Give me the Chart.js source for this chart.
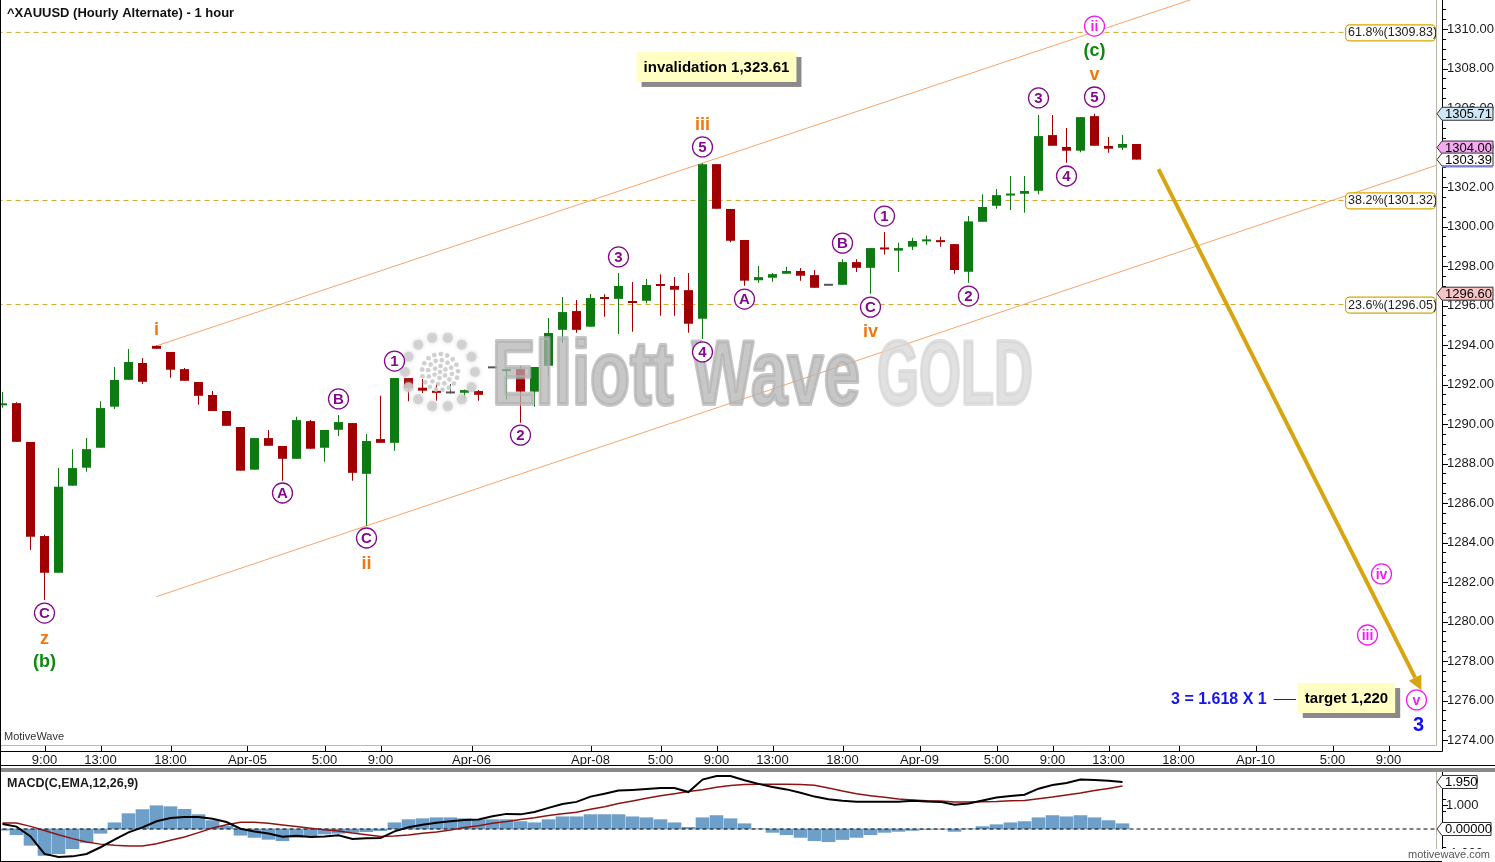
<!DOCTYPE html>
<html>
<head>
<meta charset="utf-8">
<title>XAUUSD Hourly Alternate</title>
<script src="https://cdn.jsdelivr.net/npm/chart.js@4.4.1/dist/chart.umd.min.js"></script>
<style>
  html, body { margin: 0; padding: 0; background: #fff; }
  #wrap { position: relative; width: 1495px; height: 862px; overflow: hidden; background: #fff; }
  #main { position: absolute; left: 0; top: 0; }
  #sep { position: absolute; left: 0; top: 768px; width: 1495px; height: 4px; background: #8a8a8a; }
  #macd { position: absolute; left: 0; top: 772px; }
  #edge { position: absolute; left: 0; top: 0; width: 1px; height: 862px; background: #000; }
  #foot { position: absolute; left: 0; top: 861px; width: 1442px; height: 1px; background: #000; }
</style>
</head>
<body>
<div id="wrap">
  <canvas id="main" width="1495" height="766"></canvas>
  <div id="sep"></div>
  <canvas id="macd" width="1495" height="89"></canvas>
  <div id="foot"></div>
  <div id="edge"></div>
</div>
<script>
// hourly candles, bar index 0..81
var opens  = [1290.95,1291.06,1289.09,1284.33,1282.47,1286.88,1287.79,1288.80,1290.88,1292.24,
              1293.09,1293.96,1293.65,1292.78,1292.13,1291.47,1290.66,1289.85,1287.69,1289.29,
              1288.89,1288.24,1290.15,1288.80,1289.71,1290.05,1287.48,1289.24,1289.05,1292.33,
              1291.84,1291.67,1291.55,1291.58,1291.67,1292.82,1292.68,1292.78,1291.64,1292.95,
              1294.77,1295.72,1294.93,1296.38,1296.34,1296.18,1296.24,1297.03,1296.99,1296.78,
              1295.33,1303.16,1300.89,1299.32,1297.28,1297.41,1297.61,1297.75,1297.54,1297.00,
              1297.05,1298.20,1297.91,1298.94,1298.78,1298.98,1299.25,1299.27,1299.11,1297.71,
              1300.24,1301.05,1301.57,1301.66,1301.81,1304.63,1304.03,1303.84,1305.59,1304.08,
              1303.99,1304.18];
var highs  = [1291.62,1291.10,1289.09,1284.40,1287.77,1288.73,1289.29,1291.16,1292.89,1293.80,
              1293.34,1293.98,1293.65,1292.84,1292.13,1291.67,1290.66,1289.85,1289.29,1289.70,
              1288.89,1290.37,1290.20,1289.70,1290.46,1290.05,1289.49,1291.43,1292.33,1292.33,
              1292.28,1292.08,1292.03,1291.75,1291.72,1292.82,1292.75,1292.94,1292.89,1295.37,
              1296.43,1296.28,1296.58,1296.57,1297.65,1297.19,1297.34,1297.59,1297.44,1297.65,
              1303.20,1303.16,1300.89,1299.32,1298.00,1297.65,1297.96,1297.90,1297.80,1297.00,
              1298.35,1298.35,1298.91,1299.72,1299.18,1299.43,1299.55,1299.48,1299.11,1300.53,
              1301.63,1301.90,1302.56,1302.56,1305.65,1305.65,1304.99,1305.54,1305.71,1304.53,
              1304.63,1304.18];
var lows   = [1290.83,1289.10,1283.62,1281.09,1282.47,1286.88,1287.59,1288.80,1290.76,1292.24,
              1292.03,1293.81,1292.34,1292.19,1290.98,1290.66,1289.91,1287.64,1287.69,1288.90,
              1287.13,1288.24,1288.75,1288.09,1289.39,1287.13,1284.84,1289.05,1288.65,1291.16,
              1291.57,1291.18,1291.55,1291.25,1291.18,1292.82,1291.25,1290.07,1290.88,1292.40,
              1294.12,1294.62,1294.93,1295.43,1294.56,1294.67,1296.11,1295.48,1295.48,1294.62,
              1294.30,1300.90,1299.20,1297.00,1297.15,1297.21,1297.61,1297.26,1296.90,1297.00,
              1297.05,1297.70,1296.60,1298.59,1297.70,1298.81,1299.06,1298.98,1297.61,1297.15,
              1300.24,1300.90,1300.84,1300.70,1301.63,1304.09,1303.23,1303.76,1304.09,1303.74,
              1303.87,1303.39];
var closes = [1291.05,1289.10,1284.29,1282.47,1286.83,1287.77,1288.73,1290.81,1292.23,1293.14,
              1292.14,1293.81,1292.75,1292.19,1291.43,1290.66,1289.91,1287.64,1289.29,1288.90,
              1288.24,1290.20,1288.75,1289.70,1290.10,1287.53,1289.14,1289.05,1292.33,1291.82,
              1291.69,1291.58,1291.55,1291.72,1291.48,1292.82,1292.73,1291.64,1292.89,1294.61,
              1295.67,1294.77,1296.38,1296.33,1296.99,1296.13,1297.04,1296.99,1296.80,1295.08,
              1303.16,1300.90,1299.28,1297.26,1297.44,1297.59,1297.75,1297.51,1296.90,1297.00,
              1298.20,1297.91,1298.91,1298.84,1298.91,1299.27,1299.29,1299.21,1297.80,1300.26,
              1300.99,1301.59,1301.62,1301.80,1304.58,1304.09,1303.84,1305.54,1304.09,1303.94,
              1304.18,1303.39];

// MACD(12,26,9), bar index 0..80
var macdLine = [0.21,0.10,-0.31,-1.04,-1.17,-1.14,-1.04,-0.76,-0.44,-0.14,
                0.07,0.32,0.46,0.50,0.50,0.43,0.29,0.01,-0.10,-0.19,
                -0.32,-0.28,-0.33,-0.31,-0.26,-0.42,-0.39,-0.38,-0.10,0.07,
                0.18,0.26,0.32,0.38,0.40,0.53,0.63,0.61,0.71,0.88,
                1.04,1.13,1.35,1.47,1.60,1.63,1.67,1.71,1.71,1.54,
                2.06,2.21,2.21,2.03,1.88,1.75,1.65,1.51,1.35,1.24,
                1.18,1.14,1.14,1.14,1.14,1.18,1.15,1.13,1.01,1.06,
                1.19,1.31,1.38,1.43,1.68,1.83,1.92,2.06,2.04,2.01,1.96];
var signalLine = [0.25,0.25,0.11,-0.06,-0.24,-0.40,-0.54,-0.63,-0.68,-0.71,
                  -0.71,-0.61,-0.47,-0.33,-0.15,0.04,0.18,0.28,0.28,0.24,
                  0.17,0.10,0.03,-0.03,-0.08,-0.17,-0.24,-0.31,-0.29,-0.25,
                  -0.18,-0.12,-0.04,0.06,0.14,0.24,0.31,0.40,0.47,0.56,
                  0.64,0.70,0.82,0.93,1.06,1.17,1.28,1.39,1.47,1.56,
                  1.64,1.74,1.81,1.85,1.86,1.86,1.86,1.85,1.82,1.71,
                  1.58,1.47,1.39,1.32,1.25,1.21,1.18,1.17,1.13,1.13,
                  1.14,1.15,1.18,1.19,1.26,1.33,1.42,1.50,1.60,1.69,1.79];
var macdHist = [-0.05,-0.24,-0.68,-1.10,-1.03,-0.82,-0.56,-0.18,0.26,0.64,
                0.81,0.97,0.93,0.82,0.60,0.35,0.12,-0.26,-0.35,-0.43,
                -0.49,-0.35,-0.31,-0.21,-0.18,-0.14,-0.11,-0.07,0.26,0.39,
                0.43,0.47,0.47,0.43,0.39,0.39,0.39,0.31,0.26,0.39,
                0.51,0.51,0.60,0.60,0.60,0.51,0.47,0.39,0.26,0.07,
                0.47,0.56,0.43,0.22,0.01,-0.14,-0.24,-0.35,-0.49,-0.53,
                -0.44,-0.35,-0.24,-0.14,-0.10,-0.06,-0.02,-0.01,-0.10,0.01,
                0.10,0.18,0.26,0.31,0.47,0.56,0.51,0.56,0.47,0.35,0.22];

// axis labels
var timeTickBars = [3,7,12,17.5,23,27,33.5,42,47,51,55,60,65.5,71,75,79,84,89.5,95,99];
var timeTickText = ['9:00','13:00','18:00','Apr-05','5:00','9:00','Apr-06','Apr-08','5:00','9:00',
                    '13:00','18:00','Apr-09','5:00','9:00','13:00','18:00','Apr-10','5:00','9:00'];
var priceTicks = [1274,1276,1278,1280,1282,1284,1286,1288,1290,1292,1294,1296,1298,1300,1302,1304,1306,1308,1310];
var macdTicks = [-1, 0, 1, 2];

// fibonacci retracements and price markers
var fibLevels = [1309.83, 1301.32, 1296.05];
var fibNames = ['61.8%', '38.2%', '23.6%'];
var priceMarks = [1305.71, 1304.00, 1303.39, 1296.60];

// trend channel and projection arrow, [bar, price]
var channelUpper = [[11, 1293.96], [90, 1312.70]];
var channelLower = [[11, 1281.26], [103, 1303.24]];
var projection = [[82.57, 1302.91], [100.9, 1277.16]];

// wave labels, [bar, price, text]
var minuteWaves = [[3,1280.43,'C'],[20,1286.51,'A'],[24,1291.27,'B'],[26,1284.23,'C'],[28,1293.19,'1'],
                   [37,1289.44,'2'],[44,1298.46,'3'],[50,1293.65,'4'],[50,1304.03,'5'],[53,1296.33,'A'],
                   [60,1299.16,'B'],[62,1295.92,'C'],[63,1300.53,'1'],[69,1296.48,'2'],[74,1306.51,'3'],
                   [76,1302.56,'4'],[78,1306.56,'5']];
var minorWaves = [[3,1279.16,'z'],[11,1294.81,'i'],[26,1282.96,'ii'],[50,1305.19,'iii'],[62,1294.71,'iv'],[78,1307.72,'v']];
var intermediateWaves = [[3,1278.00,'(b)'],[78,1308.94,'(c)']];
var minuetteWaves = [[78,1310.15,'ii'],[97.5,1279.32,'iii'],[98.5,1282.41,'iv'],[101,1276.03,'v']];
var primaryWaves = [[101.14,1274.81,'3']];
var noteBoxes = [[51, 1308.08, 'invalidation 1,323.61'], [96, 1276.13, 'target 1,220']];
var ratioNote = [90.3, 1276.08, '3 = 1.618 X 1'];

var FONT = '"Liberation Sans", Arial, sans-serif';
Chart.defaults.font.family = FONT;
Chart.defaults.font.size = 13;
Chart.defaults.color = '#1a1a1a';

var X_MIN = -2.5 / 14;
var X_MAX = X_MIN + 1436 / 14;

var candleColor = closes.map(function (c, i) {
  if (c > opens[i]) return '#0d7a12';
  if (c < opens[i]) return '#a10000';
  return '#555555';
});

function pts(arr) { return arr.map(function (p) { return {x: p[0], y: p[1]}; }); }

function noPad(scale) {
  scale.paddingTop = 0; scale.paddingBottom = 0;
  scale.paddingLeft = 0; scale.paddingRight = 0;
}

function roundRect(ctx, x, y, w, h, r) {
  ctx.beginPath();
  ctx.moveTo(x + r, y);
  ctx.arcTo(x + w, y, x + w, y + h, r);
  ctx.arcTo(x + w, y + h, x, y + h, r);
  ctx.arcTo(x, y + h, x, y, r);
  ctx.arcTo(x, y, x + w, y, r);
  ctx.closePath();
}

function priceTag(ctx, xa, yc, text, fill, w) {
  ctx.beginPath();
  ctx.moveTo(xa - 5, yc);
  ctx.lineTo(xa, yc - 6.5);
  ctx.lineTo(xa + w, yc - 6.5);
  ctx.lineTo(xa + w, yc + 6.5);
  ctx.lineTo(xa, yc + 6.5);
  ctx.closePath();
  ctx.fillStyle = fill;
  ctx.fill();
  ctx.strokeStyle = '#333';
  ctx.lineWidth = 1;
  ctx.stroke();
  ctx.fillStyle = '#000';
  ctx.font = '13px ' + FONT;
  ctx.textAlign = 'left';
  ctx.textBaseline = 'middle';
  ctx.fillText(text, xa + 3, yc + 0.5);
}

function frame(ctx, area, bottomAxis) {
  ctx.save();
  ctx.lineWidth = 1;
  ctx.strokeStyle = '#bdb8a6';
  ctx.beginPath();
  ctx.moveTo(area.right + 0.5, area.top);
  ctx.lineTo(area.right + 0.5, area.bottom + (bottomAxis ? 0.5 : 0));
  if (bottomAxis) {
    ctx.lineTo(area.left, area.bottom + 0.5);
  }
  ctx.stroke();
  ctx.strokeStyle = '#000';
  ctx.beginPath();
  ctx.moveTo(area.right + 6.5, area.top);
  ctx.lineTo(area.right + 6.5, area.bottom + (bottomAxis ? 6.5 : 0));
  if (bottomAxis) ctx.lineTo(area.left, area.bottom + 6.5);
  ctx.stroke();
  ctx.restore();
}

// main price panel drawing
var mainDecor = {
  id: 'mainDecor',
  afterDatasetsDraw: function (chart) {
    var ctx = chart.ctx, xs = chart.scales.x, ys = chart.scales.y, area = chart.chartArea;
    ctx.save();
    ctx.beginPath();
    ctx.rect(area.left, area.top, area.right - area.left, area.bottom - area.top);
    ctx.clip();

    // watermark logo
    var cx = 440, cy = 372;
    ctx.fillStyle = 'rgba(205,205,205,0.8)';
    ctx.shadowColor = 'rgba(200,200,200,0.9)';
    ctx.shadowBlur = 4;
    for (var k = 0; k < 14; k++) {
      var a = k / 14 * Math.PI * 2;
      ctx.beginPath();
      ctx.arc(cx + 35 * Math.cos(a), cy + 35 * Math.sin(a), 5, 0, Math.PI * 2);
      ctx.fill();
    }
    ctx.shadowBlur = 1;
    [[0, 1], [6, 6], [12, 12], [18, 17]].forEach(function (ring) {
      for (var j = 0; j < ring[1]; j++) {
        var b = j / ring[1] * Math.PI * 2 + ring[0] * 0.1;
        ctx.beginPath();
        ctx.arc(cx + ring[0] * Math.cos(b), cy + ring[0] * Math.sin(b), 2.2, 0, Math.PI * 2);
        ctx.fill();
      }
    });
    ctx.shadowBlur = 0;

    function wm(s, x0, x1, base, color) {
      ctx.font = 'bold 90px ' + FONT;
      var w = ctx.measureText(s).width;
      ctx.save();
      ctx.translate(x0 + 2, base);
      ctx.scale((x1 - x0 - 4) / w, 1);
      ctx.fillStyle = color;
      ctx.strokeStyle = color;
      ctx.lineWidth = 4;
      ctx.lineJoin = 'round';
      ctx.textAlign = 'left';
      ctx.textBaseline = 'alphabetic';
      ctx.strokeText(s, 0, 0);
      ctx.fillText(s, 0, 0);
      ctx.restore();
    }
    wm('Elliott Wave', 490, 862, 404, 'rgba(178,178,178,0.72)');
    wm('GOLD', 875, 1035, 404, 'rgba(214,214,214,0.72)');

    // projection arrow head
    var p0 = projection[0], p1 = projection[1];
    var ax = xs.getPixelForValue(p0[0]), ay = ys.getPixelForValue(p0[1]);
    var bx = xs.getPixelForValue(p1[0]), by = ys.getPixelForValue(p1[1]);
    var len = Math.hypot(bx - ax, by - ay), ux = (bx - ax) / len, uy = (by - ay) / len;
    ctx.fillStyle = '#d6a510';
    ctx.beginPath();
    ctx.moveTo(bx + ux * 14, by + uy * 14);
    ctx.lineTo(bx - uy * 7, by + ux * 7);
    ctx.lineTo(bx + uy * 7, by - ux * 7);
    ctx.closePath();
    ctx.fill();
    ctx.restore();

    // fibonacci labels
    ctx.save();
    fibLevels.forEach(function (v, i) {
      var y = ys.getPixelForValue(v);
      var x0 = xs.getPixelForValue(95.9);
      roundRect(ctx, x0 + 0.5, y - 7.5, area.right - x0 - 1, 16, 4);
      ctx.fillStyle = '#fff';
      ctx.fill();
      ctx.strokeStyle = '#d7a600';
      ctx.lineWidth = 1.2;
      ctx.stroke();
      ctx.fillStyle = '#222';
      ctx.font = '12.5px ' + FONT;
      ctx.textAlign = 'left';
      ctx.textBaseline = 'middle';
      ctx.fillText(fibNames[i] + '(' + v.toFixed(2) + ')', x0 + 3, y + 0.5);
    });

    // wave labels
    ctx.textAlign = 'center';
    ctx.textBaseline = 'middle';
    function circled(list, color, size) {
      list.forEach(function (w) {
        var x = xs.getPixelForValue(w[0]), y = ys.getPixelForValue(w[1]);
        ctx.beginPath();
        ctx.arc(x, y, 10, 0, Math.PI * 2);
        ctx.fillStyle = '#fff';
        ctx.fill();
        ctx.strokeStyle = color;
        ctx.lineWidth = 1.3;
        ctx.stroke();
        ctx.fillStyle = color;
        ctx.font = 'bold ' + size + 'px ' + FONT;
        ctx.fillText(w[2], x, y + 1);
      });
    }
    function plain(list, color, size) {
      list.forEach(function (w) {
        var x = xs.getPixelForValue(w[0]), y = ys.getPixelForValue(w[1]);
        ctx.fillStyle = color;
        ctx.font = 'bold ' + size + 'px ' + FONT;
        ctx.fillText(w[2], x, y + 1);
      });
    }
    circled(minuteWaves, '#820a8c', 15);
    circled(minuetteWaves, '#f01cf0', 14);
    plain(minorWaves, '#f2780c', 18);
    plain(intermediateWaves, '#0b8a0b', 18);
    plain(primaryWaves, '#1010f0', 20);

    // note boxes
    noteBoxes.forEach(function (n) {
      var x = xs.getPixelForValue(n[0]), y = ys.getPixelForValue(n[1]);
      ctx.font = 'bold 15px ' + FONT;
      var w = ctx.measureText(n[2]).width + 14, h = 30;
      ctx.fillStyle = '#8a8a8a';
      ctx.fillRect(x - w / 2 + 5, y - h / 2 + 5, w, h);
      ctx.fillStyle = '#ffffc4';
      ctx.fillRect(x - w / 2, y - h / 2, w, h);
      ctx.fillStyle = '#000';
      ctx.fillText(n[2], x, y + 1);
    });
    var rx = xs.getPixelForValue(ratioNote[0]), ry = ys.getPixelForValue(ratioNote[1]);
    ctx.font = 'bold 16px ' + FONT;
    ctx.fillStyle = '#1515f0';
    ctx.textAlign = 'right';
    ctx.fillText(ratioNote[2], rx, ry + 1);
    ctx.strokeStyle = '#1515f0';
    ctx.lineWidth = 1;
    ctx.beginPath();
    ctx.moveTo(rx + 7, Math.round(ry) + 0.5);
    ctx.lineTo(xs.getPixelForValue(92.4), Math.round(ry) + 0.5);
    ctx.stroke();
    ctx.restore();
  },
  afterDraw: function (chart) {
    var ctx = chart.ctx, xs = chart.scales.x, ys = chart.scales.y, area = chart.chartArea;
    frame(ctx, area, true);
    ctx.save();
    ctx.strokeStyle = '#000';
    ctx.lineWidth = 1;
    ctx.beginPath();
    for (var v = 1274; v <= 1311; v += 0.5) {
      var y = Math.round(ys.getPixelForValue(v)) + 0.5;
      ctx.moveTo(area.right + 7, y);
      ctx.lineTo(area.right + (v % 2 === 0 ? 12 : 10), y);
    }
    timeTickBars.forEach(function (b) {
      var x = Math.round(xs.getPixelForValue(b)) + 0.5;
      ctx.moveTo(x, area.bottom + 1);
      ctx.lineTo(x, area.bottom + 6);
    });
    ctx.moveTo(0, 765.5);
    ctx.lineTo(1495, 765.5);
    ctx.stroke();

    var xa = area.right + 6;
    priceTag(ctx, xa, ys.getPixelForValue(priceMarks[0]), priceMarks[0].toFixed(2), '#cfe7f4', 51);
    priceTag(ctx, xa, ys.getPixelForValue(priceMarks[1]), priceMarks[1].toFixed(2), '#f3aaf0', 51);
    priceTag(ctx, xa, ys.getPixelForValue(priceMarks[2]), priceMarks[2].toFixed(2), '#ffffff', 51);
    var yl = ys.getPixelForValue(priceMarks[2]);
    ctx.strokeStyle = '#7f7fd6';
    ctx.lineWidth = 2;
    ctx.beginPath();
    ctx.moveTo(xa, yl + 7);
    ctx.lineTo(xa + 51, yl + 7);
    ctx.stroke();
    priceTag(ctx, xa, ys.getPixelForValue(priceMarks[3]), priceMarks[3].toFixed(2), '#f6c4c4', 51);

    ctx.fillStyle = '#111';
    ctx.font = 'bold 13px ' + FONT;
    ctx.textAlign = 'left';
    ctx.textBaseline = 'middle';
    ctx.fillText('^XAUUSD (Hourly Alternate) - 1 hour', 7, 13);
    ctx.font = '11px ' + FONT;
    ctx.fillStyle = '#333';
    ctx.fillText('MotiveWave', 4, 737);
    ctx.restore();
  }
};

new Chart(document.getElementById('main'), {
  type: 'bar',
  data: {
    datasets: [
      {
        type: 'bar',
        data: lows.map(function (l, i) { return {x: i, y: [l, highs[i]]}; }),
        backgroundColor: candleColor,
        grouped: false,
        maxBarThickness: 1,
        order: 3
      },
      {
        type: 'bar',
        data: opens.map(function (o, i) { return {x: i, y: [o, closes[i]]}; }),
        backgroundColor: candleColor,
        grouped: false,
        maxBarThickness: 9,
        minBarLength: 2,
        order: 2
      }
    ].concat(fibLevels.map(function (v) {
      return {
        type: 'line',
        data: [{x: -1, y: v}, {x: 95.9, y: v}],
        borderColor: '#d6a62c',
        borderWidth: 1,
        borderDash: [5, 4],
        pointRadius: 0,
        order: 6
      };
    })).concat([
      { type: 'line', data: pts(channelUpper), borderColor: '#f7a46c', borderWidth: 1, pointRadius: 0, order: 5 },
      { type: 'line', data: pts(channelLower), borderColor: '#f7a46c', borderWidth: 1, pointRadius: 0, order: 5 },
      { type: 'line', data: pts(projection), borderColor: '#d6a510', borderWidth: 4, pointRadius: 0, order: 0 }
    ])
  },
  options: {
    responsive: false,
    animation: false,
    events: [],
    layout: { padding: 0 },
    plugins: { legend: { display: false }, tooltip: { enabled: false } },
    scales: {
      x: {
        type: 'linear',
        min: X_MIN,
        max: X_MAX,
        offset: false,
        grid: { display: false, drawTicks: false, offset: false },
        border: { display: false },
        afterBuildTicks: function (scale) {
          scale.ticks = timeTickBars.map(function (v) { return {value: v}; });
        },
        afterFit: function (scale) { scale.height = 21; noPad(scale); },
        ticks: {
          autoSkip: false,
          maxRotation: 0,
          minRotation: 0,
          padding: 8,
          callback: function (value, index) { return timeTickText[index]; }
        }
      },
      y: {
        position: 'right',
        min: 1273.75,
        max: 1311.47,
        grid: { display: false, drawTicks: false },
        border: { display: false },
        afterBuildTicks: function (scale) {
          scale.ticks = priceTicks.map(function (v) { return {value: v}; });
        },
        afterFit: function (scale) { scale.width = 59; noPad(scale); },
        ticks: {
          autoSkip: false,
          padding: 11,
          callback: function (value) { return Number(value).toFixed(2); }
        }
      }
    }
  },
  plugins: [mainDecor]
});

// MACD panel drawing
var macdDecor = {
  id: 'macdDecor',
  afterDraw: function (chart) {
    var ctx = chart.ctx, ys = chart.scales.y, area = chart.chartArea;
    frame(ctx, area, false);
    ctx.save();
    ctx.strokeStyle = '#000';
    ctx.lineWidth = 1;
    ctx.beginPath();
    for (var v = -1.25; v <= 2.25; v += 0.5) {
      var y = Math.round(ys.getPixelForValue(v)) + 0.5;
      ctx.moveTo(area.right + 7, y);
      ctx.lineTo(area.right + 10, y);
    }
    macdTicks.forEach(function (t) {
      var y = Math.round(ys.getPixelForValue(t)) + 0.5;
      ctx.moveTo(area.right + 7, y);
      ctx.lineTo(area.right + 12, y);
    });
    ctx.stroke();
    var xa = area.right + 6;
    var last = macdLine[macdLine.length - 1];
    priceTag(ctx, xa, ys.getPixelForValue(last), (Math.round(last * 40) / 40).toFixed(3), '#ffffff', 35);
    priceTag(ctx, xa, ys.getPixelForValue(0), '0.00000', '#ffffff', 49);

    ctx.fillStyle = '#1a1a1a';
    ctx.font = 'bold 12.5px ' + FONT;
    ctx.textAlign = 'left';
    ctx.textBaseline = 'middle';
    ctx.fillText('MACD(C,EMA,12,26,9)', 7, 12);
    ctx.font = '11px ' + FONT;
    var w = ctx.measureText('motivewave.com').width;
    ctx.fillStyle = '#fff';
    ctx.fillRect(1490 - w - 2, 77, w + 4, 12);
    ctx.fillStyle = '#555';
    ctx.fillText('motivewave.com', 1490 - w, 83);
    ctx.restore();
  }
};

new Chart(document.getElementById('macd'), {
  type: 'bar',
  data: {
    datasets: [
      {
        type: 'line',
        data: macdLine.map(function (v, i) { return {x: i, y: v}; }),
        borderColor: '#000',
        borderWidth: 2,
        pointRadius: 0,
        order: 0
      },
      {
        type: 'line',
        data: signalLine.map(function (v, i) { return {x: i, y: v}; }),
        borderColor: '#8e1414',
        borderWidth: 1.5,
        pointRadius: 0,
        order: 1
      },
      {
        type: 'line',
        data: [{x: -1, y: 0}, {x: 104, y: 0}],
        borderColor: '#000',
        borderWidth: 1,
        borderDash: [4, 3],
        pointRadius: 0,
        order: 2
      },
      {
        type: 'bar',
        data: macdHist.map(function (v, i) { return {x: i, y: v}; }),
        backgroundColor: '#6e9fc8',
        barThickness: 13,
        order: 3
      }
    ]
  },
  options: {
    responsive: false,
    animation: false,
    events: [],
    layout: { padding: 0 },
    plugins: { legend: { display: false }, tooltip: { enabled: false } },
    scales: {
      x: {
        type: 'linear',
        display: false,
        min: X_MIN,
        max: X_MAX,
        offset: false,
        grid: { offset: false }
      },
      y: {
        position: 'right',
        min: -1.333,
        max: 2.375,
        grid: { display: false, drawTicks: false },
        border: { display: false },
        afterBuildTicks: function (scale) {
          scale.ticks = macdTicks.map(function (v) { return {value: v}; });
        },
        afterFit: function (scale) { scale.width = 59; noPad(scale); },
        ticks: {
          autoSkip: false,
          padding: 10,
          callback: function (value) { return Number(value).toFixed(3); }
        }
      }
    }
  },
  plugins: [macdDecor]
});
</script>
</body>
</html>
